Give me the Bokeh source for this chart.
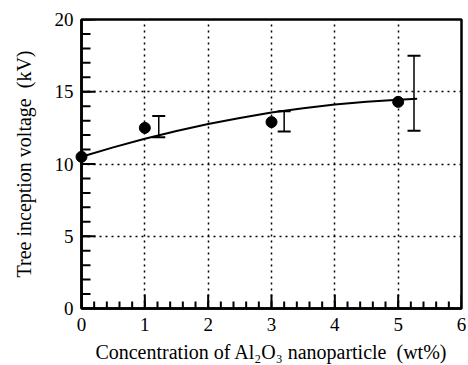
import math
from bokeh.plotting import figure
from bokeh.models import ColumnDataSource, Whisker, TeeHead, FixedTicker, Range1d
from bokeh.embed import file_html
from bokeh.resources import INLINE

# data
conc = [0, 1, 3, 5]
voltage = [10.5, 12.5, 12.9, 14.3]

err_x = [1.22, 3.2, 5.25]
err_low = [11.85, 12.25, 12.3]
err_high = [13.33, 13.65, 17.5]

curve_x = [0, 0.5, 1, 1.5, 2, 2.5, 3, 3.5, 4, 4.5, 5, 5.3]
curve_y = [10.5, 11.15, 11.75, 12.29, 12.77, 13.19, 13.56, 13.86, 14.11, 14.30, 14.44, 14.52]

x_ticks = [0, 1, 2, 3, 4, 5, 6]
y_ticks = [0, 5, 10, 15, 20]
x_minor = [i / 5 for i in range(31)]
y_minor = list(range(21))

FONT = "Liberation Serif"

p = figure(width=466, height=362, output_backend="svg", toolbar_location=None,
           x_range=Range1d(0, 6), y_range=Range1d(0, 20),
           min_border_left=81, min_border_right=5, min_border_top=19, min_border_bottom=54,
           frame_width=380, frame_height=289)
p.background_fill_color = "white"
p.border_fill_color = "white"
p.outline_line_color = "black"
p.outline_line_width = 2.5

for ax in (p.xaxis[0], p.yaxis[0]):
    ax.axis_line_color = "black"
    ax.axis_line_width = 2.5
    ax.major_tick_in = 0
    ax.major_tick_out = 0
    ax.minor_tick_in = 0
    ax.minor_tick_out = 0
    ax.major_label_text_font = FONT
    ax.major_label_text_font_size = "19px"
    ax.major_label_text_color = "black"
    ax.axis_label_text_font = FONT
    ax.axis_label_text_font_size = "20px"
    ax.axis_label_text_font_style = "normal"
    ax.axis_label_text_color = "black"

p.xaxis[0].ticker = FixedTicker(ticks=x_ticks, minor_ticks=x_minor)
p.yaxis[0].ticker = FixedTicker(ticks=y_ticks, minor_ticks=y_minor)
p.xaxis[0].major_label_standoff = 9
p.yaxis[0].major_label_standoff = 8
p.xaxis[0].axis_label_standoff = 7
p.yaxis[0].axis_label_standoff = 17
p.xaxis[0].axis_label = "Concentration of Al\u2082O\u2083 nanoparticle \u00a0(wt%)"
p.yaxis[0].axis_label = "Tree inception voltage \u00a0(kV)"

for g in (p.xgrid[0], p.ygrid[0]):
    g.grid_line_color = "black"
    g.grid_line_width = 1.5
    g.grid_line_dash = "2 4"

# inward tick marks (half of each dash is clipped by the frame)
p.scatter([0] * len(y_minor), y_minor, marker="dash", size=18,
          line_color="black", line_width=2)
p.scatter([0] * len(y_ticks), y_ticks, marker="dash", size=28,
          line_color="black", line_width=2)
p.scatter(x_minor, [0] * len(x_minor), marker="dash", size=14, angle=math.pi / 2,
          line_color="black", line_width=2)
p.scatter(x_ticks, [0] * len(x_ticks), marker="dash", size=28, angle=math.pi / 2,
          line_color="black", line_width=2)

p.line(curve_x, curve_y, line_color="black", line_width=2)

src = ColumnDataSource(dict(x=err_x, lo=err_low, hi=err_high))
w = Whisker(source=src, base="x", lower="lo", upper="hi", dimension="height",
            line_color="black", line_width=1.5,
            upper_head=TeeHead(size=13, line_width=2, line_color="black"),
            lower_head=TeeHead(size=13, line_width=2, line_color="black"))
p.add_layout(w)

p.scatter(conc, voltage, size=11, fill_color="black", line_color="black", level="overlay")

open("out.html", "w").write(file_html(p, INLINE))
